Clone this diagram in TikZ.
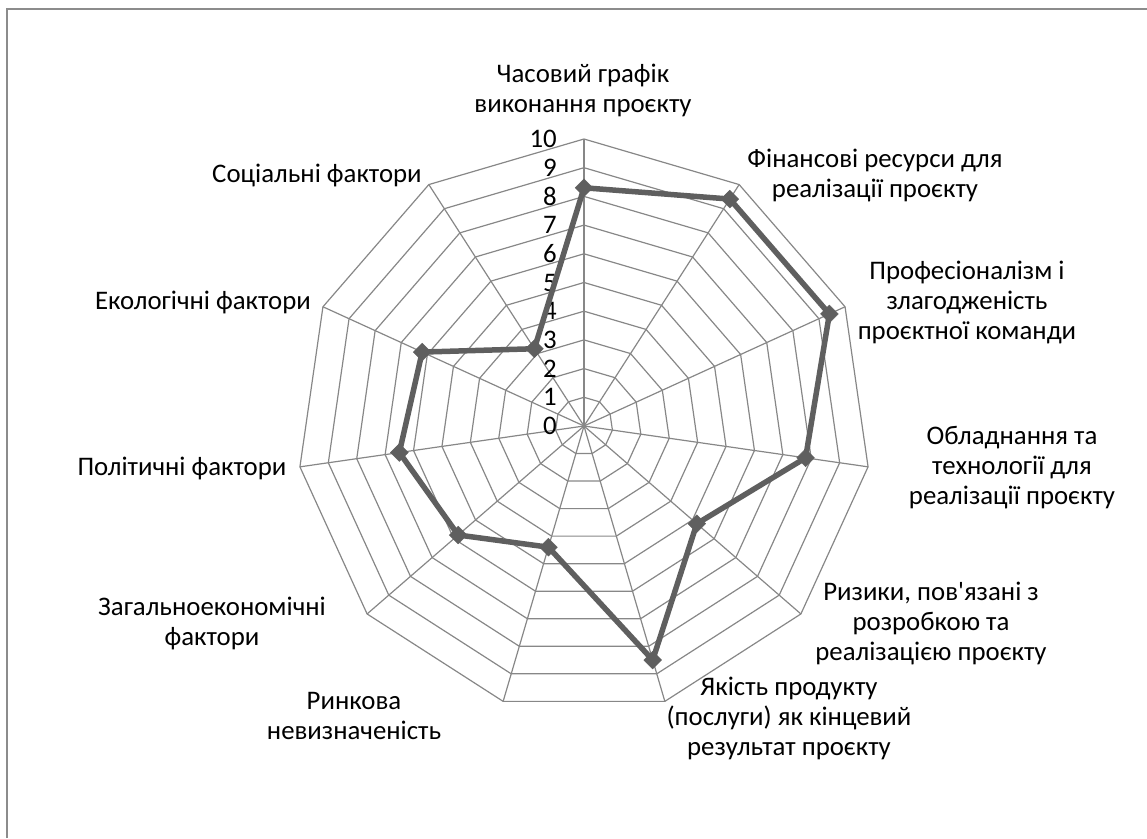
\documentclass[tikz,border=0pt]{standalone}
\usepackage{fontspec}
\setmainfont{Carlito}[Ligatures=TeXOff]
\usetikzlibrary{shapes.geometric, calc}
\definecolor{chartgrid}{HTML}{878787}
\definecolor{chartline}{HTML}{5F5F5F}
\definecolor{chartframe}{HTML}{8C8C8C}

\begin{document}
\begin{tikzpicture}[x=1pt,y=1pt,
  every node/.style={font=\fontsize{26.8}{30}\selectfont,align=center,inner sep=0pt},
  datamark/.style={draw=chartline,fill=chartline,shape=diamond,minimum size=18pt}]
  \useasboundingbox (-584,-412) rectangle (563,426);
  \draw[chartframe,line width=1.3pt] (-577,-412) -- (-577,417) -- (563,417);
  \foreach \i in {0,...,10} \draw[chartgrid,line width=1.2pt] (0,0) -- ({90-\i*360/11}:287);
  \foreach \r in {1,...,10} \draw[chartgrid,line width=1.2pt,line join=round] (90:\r*28.7)
    \foreach \i in {1,...,10} { -- ({90-\i*360/11}:\r*28.7) } -- cycle;
  \foreach \v in {0,...,10} \node[anchor=east] (t\v) at (-27,\v*28.7) {\v};
  \foreach \v [count=\i from 0] in {8.3,9.4,9.4,7.8,5.2,8.5,4.4,5.8,6.5,6.2,3.2}
    \coordinate (c\i) at ({90-\i*360/11}:\v*28.7);
  \draw[chartline,line width=5.5pt,line join=round] (c0) -- (c1) -- (c2) -- (c3) -- (c4) -- (c5)
    -- (c6) -- (c7) -- (c8) -- (c9) -- (c10) -- cycle;
  \foreach \i in {0,...,10} \node[datamark] (m\i) at (c\i) {};
  \path (-1,336) node (l0) {Часовий графік\\виконання проєкту}
  (291,251) node (l1) {Фінансові ресурси для\\реалізації проєкту}
  (383,124) node (l2) {Професіоналізм і\\злагодженість\\проєктної команди}
  (428,-42) node (l3) {Обладнання та\\технології для\\реалізації проєкту}
  (347,-197) node (l4) {Ризики, пов'язані з\\розробкою та\\реалізацією проєкту}
  (205,-292) node (l5) {Якість продукту\\(послуги) як кінцевий\\результат проєкту}
  (-230,-290) node (l6) {Ринкова\\невизначеність}
  (-372,-197) node (l7) {Загальноекономічні\\фактори}
  (-402,-42) node (l8) {Політичні фактори}
  (-381,124) node (l9) {Екологічні фактори}
  (-267,251) node (l10) {Соціальні фактори};
\end{tikzpicture}
\end{document}
